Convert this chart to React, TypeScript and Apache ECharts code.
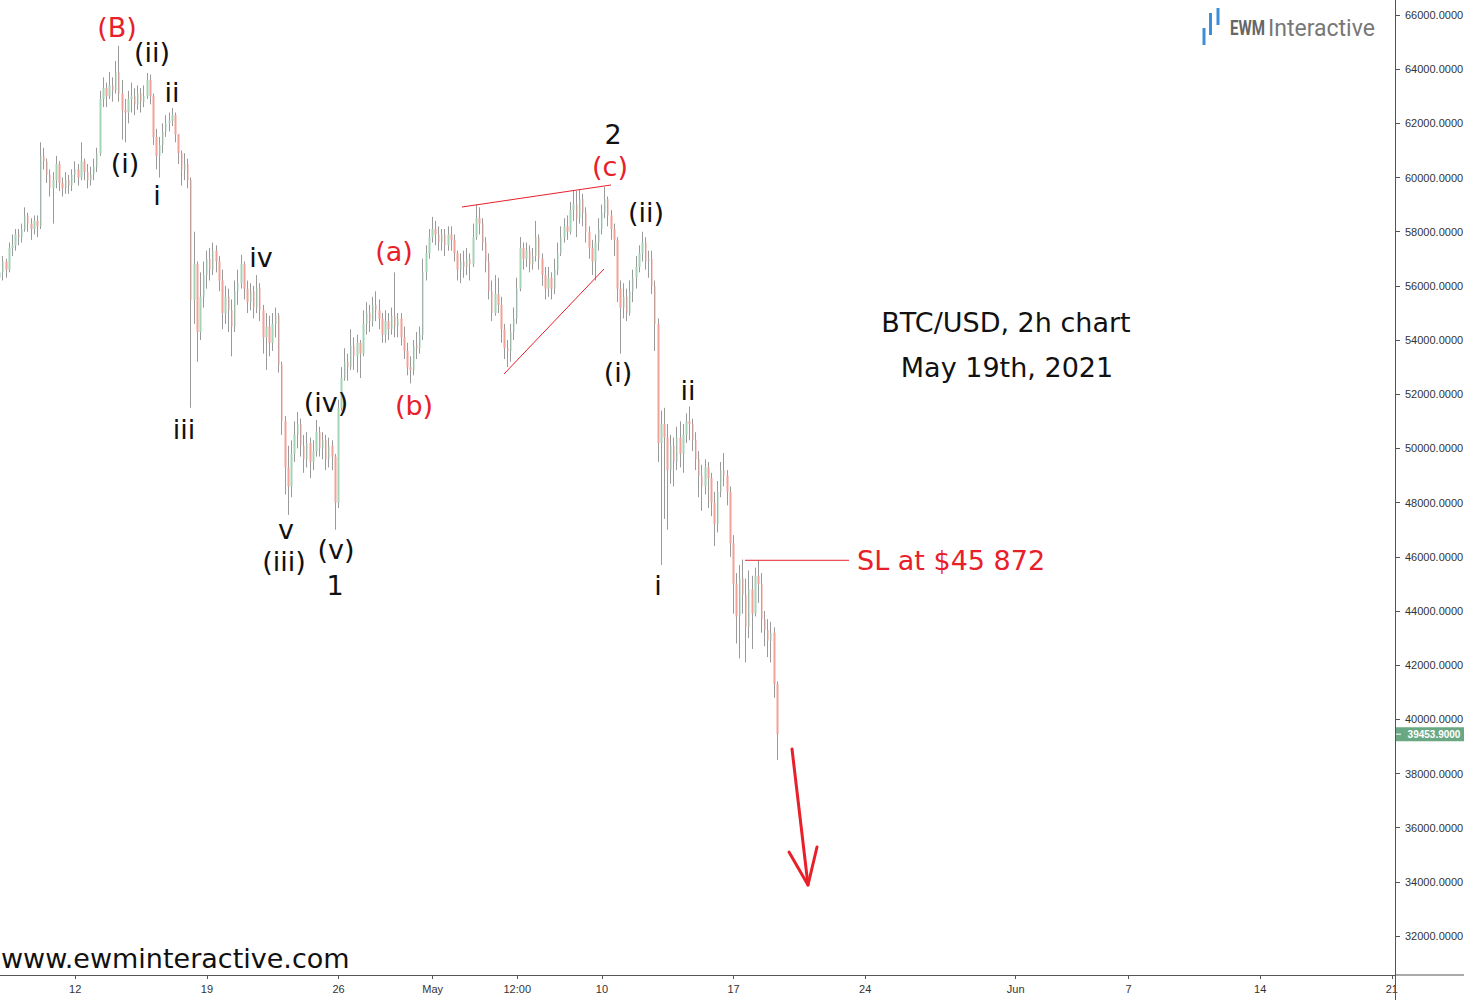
import React, { useEffect, useRef } from "react";
import * as echarts from "echarts";

// ---------- time slots (4-hour candles) ----------
const START_UTC = Date.UTC(2021, 3, 8, 0, 0);
const SLOT_HOURS = 4;
const SLOT_COUNT = 446;

const tickDates = [
  "2021-04-12 00:00", "2021-04-19 00:00", "2021-04-26 00:00", "2021-05-01 00:00",
  "2021-05-05 12:00", "2021-05-10 00:00", "2021-05-17 00:00", "2021-05-24 00:00",
  "2021-06-01 00:00", "2021-06-07 00:00", "2021-06-14 00:00", "2021-06-21 00:00",
];
const tickLabels = ["12", "19", "26", "May", "12:00", "10", "17", "24", "Jun", "7", "14", "21"];

// ---------- BTC/USD prices, thousands of USD ----------
const firstOpen = 56.3;
const closes = [
  56.5, 56.9, 56.6, 57.4, 57.5, 57.9, 57.8, 58.1, 58.6, 58.3,
  58.1, 58.4, 58.2, 60.8, 60.6, 60.1, 59.6, 59.9, 60.5, 59.8,
  59.6, 59.9, 59.7, 60.1, 60.3, 60.0, 60.6, 60.2, 59.9, 60.1,
  60.4, 60.9, 62.9, 63.3, 63.0, 63.4, 63.2, 63.9, 63.1, 62.5,
  62.4, 62.9, 63.0, 62.7, 63.1, 62.8, 63.0, 63.6, 63.0, 61.5,
  60.8, 61.2, 61.7, 62.0, 62.1, 62.3, 61.6, 60.9, 60.3, 60.5,
  59.9, 55.5, 56.8, 54.3, 55.6, 56.4, 57.0, 56.6, 57.3, 56.9,
  56.2, 55.0, 55.6, 55.1, 54.5, 55.8, 56.1, 56.8, 55.9, 55.4,
  55.8, 55.2, 55.9, 55.1, 54.1, 54.5, 53.9, 54.6, 54.9, 53.1,
  51.0, 49.3, 48.6, 49.8, 50.5, 50.9, 50.1, 49.6, 50.2, 49.5,
  49.9, 50.6, 50.0, 50.3, 49.6, 50.1, 49.7, 48.0, 51.5, 52.6,
  53.2, 53.0, 53.8, 53.4, 53.9, 53.5, 54.6, 55.0, 54.7, 55.3,
  55.1, 54.8, 54.2, 54.7, 54.4, 54.9, 54.5, 54.8, 54.1, 53.6,
  53.0, 52.9, 53.8, 53.7, 54.2, 56.5, 57.2, 57.8, 58.1, 57.9,
  57.6, 57.9, 57.5, 57.9, 57.7, 57.2, 56.6, 56.9, 56.7, 57.0,
  56.8, 57.8, 58.5, 58.3, 57.6, 56.9, 55.8, 55.0, 55.7, 55.3,
  54.4, 53.7, 53.6, 54.3, 54.8, 55.9, 57.4, 57.0, 57.3, 56.8,
  57.1, 57.8, 57.0, 56.4, 55.9, 56.3, 55.9, 56.6, 57.2, 57.8,
  58.2, 58.0, 58.8, 59.0, 58.5, 59.2, 58.7, 58.0, 57.4, 56.9,
  57.6, 58.1, 58.7, 59.2, 58.6, 58.1, 57.7, 55.9, 55.2, 55.6,
  55.0, 55.8, 56.3, 56.7, 57.2, 57.6, 56.9, 57.0, 56.0, 54.6,
  50.2, 50.9, 50.4, 49.2, 50.1, 49.5, 50.4, 49.8, 50.5, 51.0,
  50.9, 50.3, 49.6, 49.0, 48.6, 49.3, 48.9, 48.0, 47.2, 48.4,
  49.2, 49.0, 48.4, 46.5, 45.0, 43.8, 45.2, 44.6, 43.4, 44.8,
  43.9, 45.3, 45.0, 43.7, 43.3, 42.9, 43.2, 41.3, 39.4539,
];
const highs = [
  57.0, 57.1, 57.0, 57.6, 57.9, 58.1, 58.1, 58.3, 58.9, 58.7,
  58.5, 58.6, 58.6, 61.3, 61.1, 60.7, 60.3, 60.2, 60.8, 60.6,
  60.0, 60.2, 60.1, 60.3, 60.6, 60.5, 61.3, 60.7, 60.5, 60.4,
  60.7, 61.1, 63.2, 63.7, 63.5, 63.9, 63.7, 64.3, 64.86, 63.6,
  62.9, 63.2, 63.5, 63.3, 63.4, 63.3, 63.4, 63.86, 63.8, 63.1,
  61.8, 61.5, 62.0, 62.3, 62.4, 62.57, 62.4, 61.6, 61.0, 60.9,
  60.7, 60.0, 58.0, 56.9, 56.5, 56.9, 57.3, 57.4, 57.6, 57.5,
  57.1, 56.6, 56.0, 55.9, 55.5, 56.2, 56.6, 57.15, 56.9, 56.2,
  56.1, 56.0, 56.4, 56.1, 55.3, 55.0, 54.9, 55.0, 55.2, 55.0,
  53.2, 51.2, 50.1, 50.3, 51.0, 51.35, 51.1, 50.5, 50.6, 50.4,
  50.3, 51.05, 50.8, 50.6, 50.5, 50.4, 50.3, 49.8, 51.8, 53.0,
  53.7, 53.5, 54.4, 54.1, 54.2, 54.0, 55.1, 55.4, 55.3, 55.6,
  55.8, 55.5, 55.0, 55.1, 55.0, 55.2, 56.5, 55.0, 55.0, 54.5,
  53.9, 53.4, 54.0, 54.3, 54.5, 57.0, 57.5, 58.1, 58.55, 58.4,
  58.2, 58.1, 58.1, 58.2, 58.2, 57.9, 57.3, 57.2, 57.3, 57.4,
  57.2, 58.3, 59.0, 58.9, 58.5, 57.8, 57.2, 56.2, 56.4, 56.3,
  55.6, 54.6, 54.0, 54.6, 55.2, 56.3, 57.8, 57.6, 57.6, 57.5,
  57.4, 58.4, 57.9, 57.2, 56.7, 56.7, 56.5, 57.0, 57.6, 58.2,
  58.5, 58.6, 59.1, 59.5, 59.5, 59.55, 59.4, 58.9, 58.2, 57.7,
  57.9, 58.5, 59.0, 59.65, 59.3, 58.8, 58.3, 57.8, 56.2, 56.1,
  55.9, 56.2, 56.6, 57.1, 57.5, 58.0, 57.8, 57.3, 57.3, 56.2,
  54.8, 51.4, 51.5, 50.9, 50.5, 50.4, 50.8, 51.0, 50.9, 51.3,
  51.55, 51.1, 50.6, 49.9, 49.4, 49.6, 49.5, 49.1, 48.4, 48.8,
  49.5, 49.83, 49.2, 48.6, 46.8, 45.4, 45.7, 45.9, 45.2, 45.5,
  45.3, 45.6, 45.87, 45.4, 44.0, 43.7, 43.6, 43.4, 41.4,
];
const lows = [
  55.8, 56.2, 56.3, 56.5, 57.1, 57.3, 57.5, 57.6, 58.0, 58.0,
  57.7, 57.9, 57.8, 58.1, 60.3, 59.8, 59.3, 58.3, 59.6, 59.5,
  59.3, 59.4, 59.4, 59.5, 59.8, 59.7, 59.9, 59.9, 59.6, 59.7,
  59.9, 60.2, 60.8, 62.6, 62.6, 62.9, 62.8, 63.1, 62.8, 61.4,
  61.3, 62.0, 62.4, 62.3, 62.5, 62.4, 62.6, 62.9, 62.7, 61.2,
  60.3, 60.0, 60.9, 61.5, 61.7, 61.9, 61.3, 60.5, 59.7, 59.9,
  59.6, 51.5, 54.6, 53.2, 54.0, 55.2, 55.9, 56.2, 56.4, 56.5,
  55.8, 54.4, 54.6, 54.3, 53.4, 54.3, 55.3, 55.9, 55.5, 55.0,
  55.1, 54.8, 55.0, 54.7, 53.5, 52.9, 53.4, 53.6, 54.1, 52.8,
  50.5, 48.3, 47.55, 48.2, 49.5, 50.0, 49.7, 49.1, 49.3, 48.9,
  49.2, 49.7, 49.7, 49.6, 49.2, 49.3, 49.2, 47.0, 47.8, 51.4,
  52.5, 52.5, 52.9, 52.9, 52.8, 52.6, 53.4, 54.2, 54.3, 54.5,
  54.7, 54.4, 53.9, 53.9, 54.0, 54.2, 54.1, 54.1, 53.8, 53.3,
  52.7, 52.4, 52.7, 53.3, 53.5, 54.0, 56.2, 57.0, 57.6, 57.5,
  57.3, 57.3, 57.1, 57.3, 57.3, 56.9, 56.2, 56.1, 56.3, 56.4,
  56.2, 56.7, 57.7, 57.9, 57.3, 56.5, 55.5, 54.7, 54.9, 55.0,
  53.9, 53.3, 53.0, 53.2, 54.0, 54.6, 55.8, 56.6, 56.7, 56.5,
  56.6, 56.9, 56.6, 56.0, 55.5, 55.6, 55.5, 55.7, 56.4, 57.1,
  57.6, 57.7, 57.9, 58.4, 57.8, 58.3, 58.2, 57.6, 57.0, 56.4,
  56.2, 57.3, 57.9, 58.5, 58.2, 57.7, 57.1, 55.4, 53.5, 54.8,
  54.7, 54.9, 55.4, 55.9, 56.5, 56.9, 56.6, 56.3, 55.7, 53.6,
  49.5, 45.7, 47.4, 47.0, 48.7, 48.6, 49.2, 49.3, 49.1, 50.2,
  50.3, 49.9, 49.2, 48.2, 47.7, 48.3, 47.8, 47.5, 46.4, 46.9,
  48.2, 48.6, 47.9, 46.0, 43.9, 42.8, 42.25, 43.9, 42.1, 43.0,
  42.6, 43.8, 44.3, 43.2, 42.7, 42.3, 42.1, 40.8, 38.5,
];

const lastPrice = 39453.9;
const stopLoss = 45872;

// ---------- annotation styling / placement ----------
const RED = "#e8202a";
const BLACK = "#111111";
const ANNOT_FONT = '27px "DejaVu Sans"';

const waveLabels = [
  { text: "(B)", x: 117, y: 27, color: RED },
  { text: "(ii)", x: 152, y: 52, color: BLACK },
  { text: "ii", x: 172, y: 92, color: BLACK },
  { text: "(i)", x: 125, y: 163, color: BLACK },
  { text: "i", x: 157, y: 195, color: BLACK },
  { text: "iii", x: 184, y: 429, color: BLACK },
  { text: "iv", x: 261, y: 257, color: BLACK },
  { text: "v", x: 286, y: 529, color: BLACK },
  { text: "(iii)", x: 284, y: 561, color: BLACK },
  { text: "(iv)", x: 326, y: 402, color: BLACK },
  { text: "(v)", x: 336, y: 549, color: BLACK },
  { text: "1", x: 335, y: 585, color: BLACK },
  { text: "(a)", x: 394, y: 251, color: RED },
  { text: "(b)", x: 414, y: 405, color: RED },
  { text: "2", x: 613, y: 134, color: BLACK },
  { text: "(c)", x: 610, y: 166, color: RED },
  { text: "(ii)", x: 646, y: 212, color: BLACK },
  { text: "(i)", x: 618, y: 372, color: BLACK },
  { text: "ii", x: 688, y: 390, color: BLACK },
  { text: "i", x: 658, y: 585, color: BLACK },
];

const pad = (n: number) => String(n).padStart(2, "0");
const slotName = (ms: number) => {
  const d = new Date(ms);
  return `${d.getUTCFullYear()}-${pad(d.getUTCMonth() + 1)}-${pad(d.getUTCDate())} ${pad(d.getUTCHours())}:${pad(d.getUTCMinutes())}`;
};
const categories = Array.from({ length: SLOT_COUNT }, (_, i) =>
  slotName(START_UTC + i * SLOT_HOURS * 3600 * 1000)
);
const tickMap = new Map<number, string>(
  tickDates.map((d, k) => [categories.indexOf(d), tickLabels[k]])
);

const candles = closes.map((c, i) => {
  const o = i === 0 ? firstOpen : closes[i - 1];
  return [o * 1000, c * 1000, lows[i] * 1000, highs[i] * 1000];
});
const bodies = candles.map(([o, c]) => [o, c, Math.min(o, c), Math.max(o, c)]);

function text(t: string, x: number, y: number, fill: string, font: string, align = "center", extra: any = {}) {
  return {
    type: "text",
    x,
    y,
    z: 100,
    ...extra,
    style: {
      text: t,
      fill,
      font,
      align,
      textAlign: align,
      verticalAlign: "middle",
      textVerticalAlign: "middle",
    },
  };
}

export default function App() {
  const ref = useRef<HTMLDivElement>(null);

  useEffect(() => {
    document.body.style.margin = "0";
    const chart = echarts.init(ref.current as HTMLDivElement, null, { renderer: "svg" });
    const axisColor = "#555555";
    chart.setOption({
      animation: false,
      backgroundColor: "#ffffff",
      grid: { left: 0, right: 69, top: -39.2, bottom: 9.7, containLabel: false, outerBoundsMode: "none" },
      xAxis: {
        type: "category",
        data: categories,
        boundaryGap: false,
        offset: -15.3,
        axisLine: { show: true, onZero: false, lineStyle: { color: axisColor, width: 1 } },
        axisTick: {
          show: true,
          length: 4,
          interval: (i: number) => tickMap.has(i),
          lineStyle: { color: axisColor },
        },
        axisLabel: {
          interval: (i: number) => tickMap.has(i),
          formatter: (_v: string, i: number) => tickMap.get(i) || "",
          color: "#333333",
          fontSize: 11,
          fontFamily: "Liberation Sans",
          margin: 8,
        },
        splitLine: { show: false },
      },
      yAxis: {
        type: "value",
        position: "right",
        min: 30000,
        max: 68000,
        interval: 2000,
        axisLine: { show: true, lineStyle: { color: axisColor, width: 1 } },
        axisTick: { show: true, length: 5, lineStyle: { color: axisColor } },
        axisLabel: {
          formatter: (v: number) => v.toFixed(4),
          color: "#333333",
          fontSize: 11,
          fontFamily: "Liberation Sans",
          margin: 10,
          showMinLabel: false,
          showMaxLabel: false,
        },
        splitLine: { show: false },
      },
      series: [
        {
          type: "candlestick",
          name: "range",
          data: candles,
          barWidth: 1,
          large: false,
          silent: true,
          itemStyle: {
            color: "#9a9a9a",
            color0: "#9a9a9a",
            borderColor: "#9a9a9a",
            borderColor0: "#9a9a9a",
            borderWidth: 1,
          },
        },
        {
          type: "candlestick",
          name: "body",
          data: bodies,
          barWidth: 2,
          large: false,
          silent: true,
          itemStyle: {
            color: "#a3d4b6",
            color0: "#f2a199",
            borderColor: "#a3d4b6",
            borderColor0: "#f2a199",
            borderWidth: 0,
          },
        },
      ],
    });

    const yLast = chart.convertToPixel({ yAxisIndex: 0 }, lastPrice) as number;
    const ySL = chart.convertToPixel({ yAxisIndex: 0 }, stopLoss) as number;

    const graphics: any[] = [
      // axis extensions
      { type: "line", z: 90, shape: { x1: 1395, y1: 975, x2: 1464, y2: 975 }, style: { stroke: axisColor, lineWidth: 1 } },
      { type: "line", z: 90, shape: { x1: 1395.5, y1: 985, x2: 1395.5, y2: 1000 }, style: { stroke: axisColor, lineWidth: 1 } },
      // price tag
      { type: "rect", z: 95, shape: { x: 1396, y: yLast - 7, width: 68, height: 14 }, style: { fill: "#6aa883" } },
      { type: "line", z: 96, shape: { x1: 1396, y1: yLast, x2: 1401, y2: yLast }, style: { stroke: "#ffffff", lineWidth: 1 } },
      text(lastPrice.toFixed(4), 1434, yLast, "#ffffff", 'bold 10px "Liberation Sans"'),
      // wave labels
      ...waveLabels.map((w) => text(w.text, w.x, w.y, w.color, ANNOT_FONT)),
      // titles
      text("BTC/USD, 2h chart", 1006, 322, BLACK, ANNOT_FONT),
      text("May 19th, 2021", 1007, 367, BLACK, ANNOT_FONT),
      text("www.ewminteractive.com", 1, 958, BLACK, ANNOT_FONT, "left"),
      // stop loss
      { type: "line", z: 100, shape: { x1: 745, y1: ySL, x2: 849, y2: ySL }, style: { stroke: RED, lineWidth: 1 } },
      text("SL at $45 872", 857, ySL, RED, ANNOT_FONT, "left"),
      // triangle lines
      { type: "line", z: 100, shape: { x1: 462, y1: 207, x2: 611, y2: 185 }, style: { stroke: RED, lineWidth: 1 } },
      { type: "line", z: 100, shape: { x1: 504, y1: 374, x2: 604, y2: 269 }, style: { stroke: RED, lineWidth: 1 } },
      // arrow
      { type: "polyline", z: 100, shape: { points: [[792, 749], [808, 885]] }, style: { stroke: RED, lineWidth: 3, lineCap: "round", fill: "none" } },
      { type: "polyline", z: 100, shape: { points: [[789, 852], [808, 885], [817, 847]] }, style: { stroke: RED, lineWidth: 3, lineCap: "round", lineJoin: "round", fill: "none" } },
      // logo
      { type: "rect", z: 100, shape: { x: 1202.5, y: 28, width: 3, height: 17 }, style: { fill: "#3b8edb" } },
      { type: "rect", z: 100, shape: { x: 1209, y: 13, width: 3, height: 22 }, style: { fill: "#3b8edb" } },
      { type: "rect", z: 100, shape: { x: 1216.5, y: 8, width: 3, height: 17 }, style: { fill: "#3b8edb" } },
      text("EWM", 1230, 28, "#666666", 'bold 21px Roboto', "left", { scaleX: 0.72 }),
      text("Interactive", 1268, 28, "#777777", '23px Roboto', "left"),
    ];
    chart.setOption({ graphic: { elements: graphics } });

    return () => chart.dispose();
  }, []);

  return <div ref={ref} style={{ width: 1464, height: 1000 }} />;
}
